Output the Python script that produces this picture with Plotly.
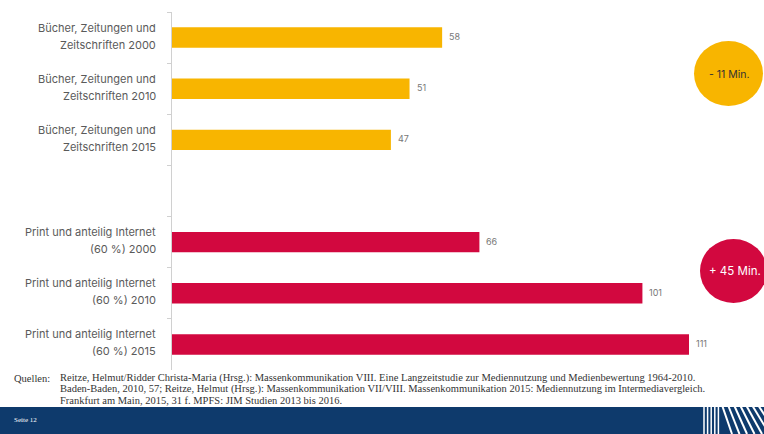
import plotly.graph_objects as go

# ---- data ----
books_labels = ["Bücher, Zeitungen und|Zeitschriften 2000",
                "Bücher, Zeitungen und|Zeitschriften 2010",
                "Bücher, Zeitungen und|Zeitschriften 2015"]
books_values = [58, 51, 47]
print_labels = ["Print und anteilig Internet|(60 %) 2000",
                "Print und anteilig Internet|(60 %) 2010",
                "Print und anteilig Internet|(60 %) 2015"]
print_values = [66, 101, 111]
spacer = " "
books_change = "- 11 Min."
print_change = "+ 45 Min."
source_lines = [
    "Reitze, Helmut/Ridder Christa-Maria (Hrsg.): Massenkommunikation VIII. Eine Langzeitstudie zur Mediennutzung und Medienbewertung 1964-2010.",
    "Baden-Baden, 2010, 57; Reitze, Helmut (Hrsg.): Massenkommunikation VII/VIII. Massenkommunikation 2015: Mediennutzung im Intermediavergleich.",
    "Frankfurt am Main, 2015, 31 f. MPFS: JIM Studien 2013 bis 2016.",
]
page_label = "Seite 12"

YELLOW = "#F8B500"
RED = "#D2083F"
NAVY = "#0E3A6C"

W, H = 764, 434
ML, MR, MT, MB = 172, 5, 12, 64
PW, PH = W - ML - MR, H - MT - MB


def px(x):
    return (x - ML) / PW


def py(y):
    return (H - MB - y) / PH


order = books_labels + [spacer] + print_labels

fig = go.Figure()
fig.add_trace(go.Bar(y=books_labels, x=books_values, orientation="h",
                     marker=dict(color=YELLOW, line=dict(width=0)), width=0.4,
                     hoverinfo="skip"))
fig.add_trace(go.Bar(y=print_labels, x=print_values, orientation="h",
                     marker=dict(color=RED, line=dict(width=0)), width=0.4,
                     hoverinfo="skip"))

LABEL_FONT = dict(family="Inter", size=11, color="#5a5a5a")
annotations = []
for labels, values in ((books_labels, books_values), (print_labels, print_values)):
    for lab, v in zip(labels, values):
        l1, l2 = lab.split("|")
        annotations.append(dict(x=0, xref="paper", y=lab, yref="y", text=l1,
                                xanchor="right", yanchor="middle", xshift=-14, yshift=10,
                                showarrow=False, font=LABEL_FONT))
        annotations.append(dict(x=0, xref="paper", y=lab, yref="y", text=l2,
                                xanchor="right", yanchor="middle", xshift=-14, yshift=-7,
                                showarrow=False, font=LABEL_FONT))
        annotations.append(dict(x=v, xref="x", y=lab, yref="y", text=str(v),
                                xanchor="left", yanchor="middle", xshift=5, yshift=1,
                                showarrow=False, font=dict(family="Inter", size=9, color="#777")))

shapes = []
# circles
shapes.append(dict(type="circle", xref="paper", yref="paper",
                   x0=px(694), x1=px(763), y0=py(41), y1=py(106),
                   fillcolor=YELLOW, line=dict(width=0)))
shapes.append(dict(type="circle", xref="paper", yref="paper",
                   x0=px(700), x1=px(767), y0=py(239), y1=py(303),
                   fillcolor=RED, line=dict(width=0)))
annotations.append(dict(x=px(729), y=py(74), xref="paper", yref="paper", text=books_change,
                        xanchor="center", yanchor="middle",
                        showarrow=False, font=dict(family="Inter", size=10.5, color="#333")))
annotations.append(dict(x=px(735), y=py(271), xref="paper", yref="paper", text=print_change,
                        xanchor="center", yanchor="middle",
                        showarrow=False, font=dict(family="Inter", size=11.5, color="white")))

# footer bar
shapes.append(dict(type="rect", xref="paper", yref="paper", x0=px(0), x1=px(W),
                   y0=py(H), y1=py(407), fillcolor=NAVY, line=dict(width=0), layer="above"))
# logo stripes
for i in range(5):
    xx = 704 + i * 3.6
    shapes.append(dict(type="line", xref="paper", yref="paper", x0=px(xx), x1=px(xx),
                       y0=py(405), y1=py(H), line=dict(color="white", width=1.5), layer="above"))
for i in range(7):
    xx = 722 + i * 6
    shapes.append(dict(type="line", xref="paper", yref="paper", x0=px(xx), x1=px(xx + 10 + i * 1.5),
                       y0=py(405), y1=py(H), line=dict(color="white", width=2), layer="above"))
annotations.append(dict(x=px(12), y=py(420), xref="paper", yref="paper", text=page_label,
                        xanchor="left", yanchor="middle", showarrow=False,
                        font=dict(family="Liberation Serif", size=7, color="white")))

# sources
SRC_FONT = dict(family="Liberation Serif", size=10.5, color="#333")
annotations.append(dict(x=px(12), y=py(378), xref="paper", yref="paper", text="Quellen:",
                        xanchor="left", yanchor="middle", showarrow=False, font=SRC_FONT))
for i, line in enumerate(source_lines):
    annotations.append(dict(x=px(58), y=py(378 + i * 11), xref="paper", yref="paper", text=line,
                            xanchor="left", yanchor="middle", showarrow=False, font=SRC_FONT))

fig.update_layout(
    width=W, height=H, margin=dict(l=ML, r=MR, t=MT, b=MB),
    paper_bgcolor="white", plot_bgcolor="white",
    showlegend=False, barmode="overlay", hovermode=False,
    xaxis=dict(range=[0, PW / (517 / 111)], visible=False, fixedrange=True),
    yaxis=dict(type="category", categoryorder="array", categoryarray=order,
               autorange="reversed", showticklabels=False,
               showline=True, linecolor="#d0d0d0", linewidth=1,
               ticks="outside", tickson="boundaries", ticklen=4, tickcolor="#d0d0d0",
               showgrid=False, fixedrange=True, range=[6.5, -0.5]),
    annotations=annotations, shapes=shapes,
)

fig.write_html("out.html")
